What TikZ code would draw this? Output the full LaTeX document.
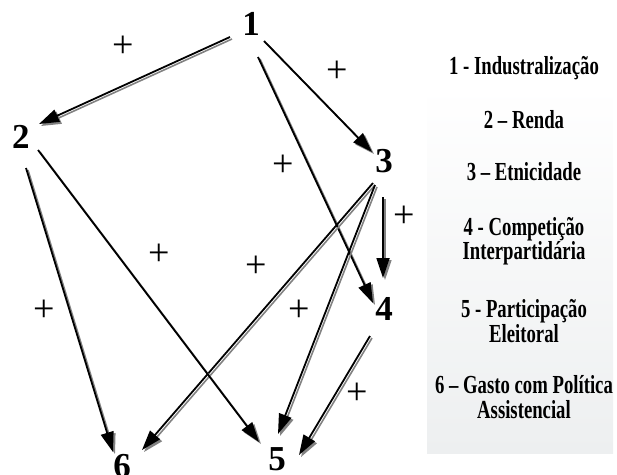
\documentclass[tikz,border=0pt]{standalone}
\usepackage{fontspec}
\setmainfont{Liberation Serif}
\newfontfamily\legendfont[FakeStretch=0.72]{Liberation Serif}
\usetikzlibrary{arrows.meta,calc}
\definecolor{shadowgray}{RGB}{130,130,130}
\definecolor{boxgray}{RGB}{237,239,240}
\tikzset{
  var/.style={font=\fontsize{35}{35}\selectfont\bfseries, inner sep=0pt},
  sign/.style={font=\fontsize{38}{38}\selectfont, inner sep=0pt},
  leg/.style={font=\legendfont\fontsize{26}{26}\selectfont\bfseries, inner sep=0pt, anchor=base},
  conn/.style={line width=1.8pt, -{Triangle[length=20pt,width=13pt]},
    preaction={draw=shadowgray, line width=1.6pt, transform canvas={shift={(2pt,-2pt)}}}},
}
\begin{document}
\begin{tikzpicture}[x=1pt,y=-1pt]
\useasboundingbox (0,0) rectangle (617,474);
% legend panel
\shade[top color=white, bottom color=boxgray] (427,86) rectangle (613,453);
\node[leg] (l1) at (524,74) {1 - Industralização};
\node[leg] (l2) at (524,128) {2 – Renda};
\node[leg] (l3) at (524,180) {3 – Etnicidade};
\node[leg] (l4a) at (524,235) {4 - Competição};
\node[leg] (l4b) at (524,259) {Interpartidária};
\node[leg] (l5a) at (524,317) {5 - Participação};
\node[leg] (l5b) at (524,342) {Eleitoral};
\node[leg] (l6a) at (524,393) {6 – Gasto com Política};
\node[leg] (l6b) at (524,418) {Assistencial};
% variables
\node[var] (n1) at (251,24) {1};
\node[var] (n2) at (21,137) {2};
\node[var] (n3) at (384,161) {3};
\node[var] (n4) at (384,309) {4};
\node[var] (n5) at (277,459) {5};
\node[var] (n6) at (122,466) {6};
% connectors
\draw[conn] ($(n1)+(-21,13)$) -- ($(n2)+(18,-13)$);
\draw[conn] ($(n1)+(13,17)$) -- ($(n3)+(-12,-9)$);
\draw[conn] ($(n1)+(7,33)$) -- ($(n4)+(-11,-6)$);
\draw[conn] ($(n3)+(-1,36)$) -- ($(n4)+(-1,-31)$);
\draw[conn] ($(n3)+(-11,22)$) -- ($(n6)+(20,-16)$);
\draw[conn] ($(n3)+(-9,24)$) -- ($(n5)+(1,-25)$);
\draw[conn] ($(n2)+(5,31)$) -- ($(n6)+(-9,-14)$);
\draw[conn] ($(n2)+(17,13)$) -- ($(n5)+(-18,-17)$);
\draw[conn] ($(n4)+(-14,27)$) -- ($(n5)+(22,-4)$);
% signs
\node[sign] (s1) at (123,47) {+};
\node[sign] (s2) at (337,72) {+};
\node[sign] (s3) at (283,166) {+};
\node[sign] (s4) at (404,217) {+};
\node[sign] (s5) at (159,255) {+};
\node[sign] (s6) at (256,267) {+};
\node[sign] (s7) at (44,311) {+};
\node[sign] (s8) at (299,311) {+};
\node[sign] (s9) at (357,394) {+};
\end{tikzpicture}
\end{document}
